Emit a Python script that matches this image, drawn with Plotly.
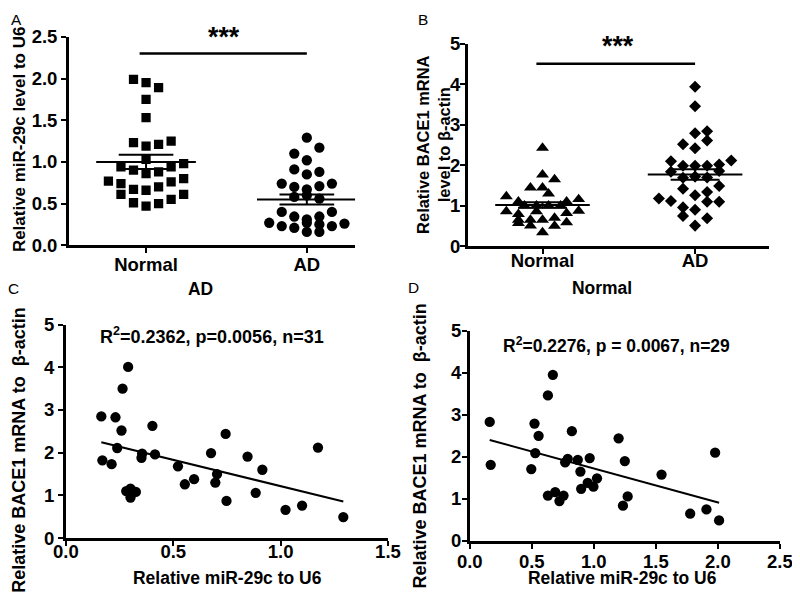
import plotly.graph_objects as go

FONT = "Arial, 'Liberation Sans', sans-serif"

# ---------------- Panel A : miR-29c (relative to U6) ----------------
groups = ["Normal", "AD"]
a_normal = [1.99, 1.95, 1.89, 1.75, 1.53, 1.23, 1.19, 1.21, 1.25, 1.03,
            0.94, 0.90, 0.86, 0.88, 0.94, 0.98, 0.77, 0.74, 0.67, 0.66,
            0.70, 0.76, 0.80, 0.61, 0.61, 0.51, 0.47, 0.50, 0.55]
a_normal_col = [-1, 0, 1, 0, 0, -1, 0, 1, 2, 0,
                -2, -1, 0, 1, 2, 3, -3, -2, -1, 0,
                1, 2, 3, -2, 3, -1, 0, 1, 2]
a_ad = [1.29, 1.17, 1.10, 1.02, 0.91, 0.85, 0.88, 0.74, 0.70, 0.67,
        0.71, 0.74, 0.58, 0.60, 0.56, 0.40, 0.40, 0.345, 0.31, 0.345,
        0.27, 0.23, 0.21, 0.27, 0.25, 0.23, 0.26, 0.16, 0.16]
a_ad_col = [0, 1, -1, 0, -1, 0, 1, -2, -1, 0,
            1, 2, -1, 0, 1, -2, 2, -1, 0, 1,
            -3, -2, -1, 0, 1, 2, 3, 0, 1]
a_mean = [1.00, 0.55]
a_sem = [0.085, 0.06]

# ---------------- Panel B : BACE1 mRNA (relative to beta-actin) ----------------
b_normal = [2.43, 1.77, 1.65, 1.45, 1.45, 1.30, 1.23, 1.10, 1.16, 1.10,
            1.00, 1.00, 1.00, 1.00, 0.86, 0.87, 0.79, 0.86, 0.82, 0.65,
            0.65, 0.65, 0.70, 0.59, 0.57, 0.51, 0.50, 0.34]
b_normal_col = [0, 0, 1, -1, 0, 0.5, -3, -2, 3, 2,
                -1.5, -0.5, 0.5, 1.5, -3, 3, -2, -0.5, 2, -2,
                -1, 0, 1, 2, -2, -1, 1, 0]
b_ad = [3.94, 3.46, 2.79, 2.84, 2.61, 2.52, 2.42, 2.10, 2.12, 1.99,
        1.99, 1.99, 2.02, 1.84, 1.69, 1.72, 1.70, 1.86, 1.42, 1.49,
        1.18, 1.12, 1.26, 1.34, 1.10, 1.10, 0.96, 0.90, 0.75, 0.69, 0.51]
b_ad_col = [0, 0, 0, 1, 1, -1, 0, -2, 3, -1,
            0, 1, 2, -2, -1, 0, 1, 2, -1, 2,
            -3, -2, 0, 1, 1, 2, -1, 0, -1, 1, 0]
b_mean = [1.02, 1.77]
b_sem = [0.07, 0.13]

# ---------------- Panel C : AD correlation ----------------
c_mir = [0.165, 0.170, 0.213, 0.231, 0.239, 0.259, 0.264, 0.290, 0.281, 0.301,
         0.301, 0.326, 0.352, 0.355, 0.403, 0.415, 0.522, 0.554, 0.597, 0.676,
         0.696, 0.704, 0.744, 0.748, 0.846, 0.915, 0.884, 1.023, 1.100, 1.174, 1.292]
c_bace = [2.85, 1.82, 1.73, 2.83, 2.11, 2.52, 3.50, 4.01, 1.10, 1.16,
          0.95, 1.08, 1.88, 1.98, 2.63, 1.96, 1.68, 1.26, 1.38, 1.99,
          1.30, 1.50, 2.44, 0.87, 1.91, 1.60, 1.06, 0.66, 0.76, 2.12, 0.49]
c_fit = [-1.234, 2.45]   # slope, intercept
c_stats = "R<sup>2</sup>=0.2362, p=0.0056, n=31"

# ---------------- Panel D : Normal correlation ----------------
d_mir = [0.161, 0.169, 0.496, 0.522, 0.528, 0.555, 0.630, 0.670, 0.630, 0.689,
         0.723, 0.756, 0.769, 0.790, 0.823, 0.871, 0.892, 0.898, 0.951, 0.967,
         0.997, 1.026, 1.200, 1.235, 1.250, 1.273, 1.546, 1.777, 1.908, 1.978, 2.010]
d_bace = [2.83, 1.81, 1.71, 2.79, 2.09, 2.50, 3.46, 3.95, 1.08, 1.16,
          0.95, 1.08, 1.87, 1.95, 2.61, 1.93, 1.65, 1.24, 1.38, 1.97,
          1.29, 1.49, 2.44, 0.84, 1.90, 1.06, 1.58, 0.65, 0.75, 2.10, 0.49]
d_fit = [-0.807, 2.53]
d_stats = "R<sup>2</sup>=0.2276, p = 0.0067, n=29"

# page geometry: the rendered page appears scaled/offset in the final picture
W, H = 820, 602
SX, CX = 0.971, 20.0
SY, CY = 0.9725, 15.0
K = 1.0 / 0.972
def px(x):
    return ((x - CX) / SX) / W
def py(y):
    return 1 - ((y - CY) / SY) / H

fig = go.Figure()

def dots(vals, cols, center, spacing, symbol, size, xa, ya):
    fig.add_trace(go.Scatter(
        x=[center + c * spacing for c in cols], y=vals, mode="markers",
        marker=dict(symbol=symbol, size=size * K, color="black", line=dict(width=0)),
        xaxis=xa, yaxis=ya, showlegend=False, hoverinfo="skip"))

def mean_sem(means, sems, hw, sw, xa, ya):
    xs, ys = [], []
    for i, (m, s) in enumerate(zip(means, sems)):
        c = i + 1
        xs += [c - hw, c + hw, None, c - sw, c + sw, None, c - sw, c + sw, None, c, c, None]
        ys += [m, m, None, m + s, m + s, None, m - s, m - s, None, m - s, m + s, None]
    fig.add_trace(go.Scatter(x=xs, y=ys, mode="lines",
                             line=dict(color="black", width=2),
                             xaxis=xa, yaxis=ya, showlegend=False, hoverinfo="skip"))

# Panel A
dots(a_normal, a_normal_col, 1, 0.078, "square", 9, "x", "y")
dots(a_ad, a_ad_col, 2, 0.078, "circle", 10, "x", "y")
mean_sem(a_mean, a_sem, 0.31, 0.17, "x", "y")
# Panel B
dots(b_normal, b_normal_col, 1, 0.079, "triangle-up", 11, "x2", "y2")
dots(b_ad, b_ad_col, 2, 0.079, "diamond", 9, "x2", "y2")
mean_sem(b_mean, b_sem, 0.31, 0.16, "x2", "y2")

# Panel C / D scatter + fit
def corr(xv, yv, fit, xa, ya):
    fig.add_trace(go.Scatter(x=xv, y=yv, mode="markers",
                             marker=dict(symbol="circle", size=10 * K, color="black"),
                             xaxis=xa, yaxis=ya, showlegend=False, hoverinfo="skip"))
    x0, x1 = min(xv), max(xv)
    fig.add_trace(go.Scatter(x=[x0, x1], y=[fit[0] * x0 + fit[1], fit[0] * x1 + fit[1]],
                             mode="lines", line=dict(color="black", width=2),
                             xaxis=xa, yaxis=ya, showlegend=False, hoverinfo="skip"))

corr(c_mir, c_bace, c_fit, "x3", "y3")
corr(d_mir, d_bace, d_fit, "x4", "y4")

tickfont = dict(family=FONT, size=18 * K, color="black", weight="bold")
axis_common = dict(showline=True, linecolor="black", linewidth=2.5, ticks="outside",
                   ticklen=5, tickwidth=2, tickcolor="black", showgrid=False,
                   zeroline=False, tickfont=tickfont, fixedrange=True)

fig.update_layout(
    width=W, height=H, margin=dict(l=0, r=0, t=0, b=0),
    paper_bgcolor="white", plot_bgcolor="white", showlegend=False,
    xaxis=dict(domain=[px(68), px(355)], range=[0.52, 2.30], tickvals=[1, 2],
               ticktext=groups, anchor="y", ticklabelstandoff=-4, **axis_common),
    yaxis=dict(domain=[py(243), py(33)], range=[0, 2.5], dtick=0.5, tick0=0,
               tickformat=".1f", anchor="x", **axis_common),
    xaxis2=dict(domain=[px(468), px(770)], range=[0.51, 2.484], tickvals=[1, 2],
                ticktext=groups, anchor="y2", ticklabelstandoff=-9, **axis_common),
    yaxis2=dict(domain=[py(244), py(40)], range=[0, 5], dtick=1, tick0=0,
                anchor="x2", ticklabelstandoff=-4, **axis_common),
    xaxis3=dict(domain=[px(65), px(388)], range=[0, 1.5], dtick=0.5, tick0=0,
                tickformat=".1f", anchor="y3", ticklabelstandoff=-10, **axis_common),
    yaxis3=dict(domain=[py(538), py(323)], range=[0, 5], dtick=1, tick0=0,
                anchor="x3", **axis_common),
    xaxis4=dict(domain=[px(470), px(781)], range=[0, 2.5], dtick=0.5, tick0=0,
                tickformat=".1f", anchor="y4", ticklabelstandoff=-3, **axis_common),
    yaxis4=dict(domain=[py(541), py(329)], range=[0, 5], dtick=1, tick0=0,
                anchor="x4", ticklabelstandoff=-3, **axis_common),
)

# significance bars
fig.add_shape(type="line", xref="x", yref="y", x0=0.96, x1=2.0, y0=2.30, y1=2.30,
              line=dict(color="black", width=2.5))
fig.add_shape(type="line", xref="x2", yref="y2", x0=0.96, x1=2.0, y0=4.51, y1=4.51,
              line=dict(color="black", width=2.5))

def ann(text, x, y, size, bold=True, angle=0, xanchor="center", yanchor="middle"):
    fig.add_annotation(text=text, x=px(x), y=py(y), xref="paper", yref="paper",
                       showarrow=False, textangle=angle, xanchor=xanchor, yanchor=yanchor,
                       font=dict(family=FONT, size=size * K, color="black",
                                 weight="bold" if bold else "normal"))

# stars
ann("***", 224, 33, 26)
ann("***", 619, 42, 26)

# panel letters
ann("A", 15, 15, 15, bold=False)
ann("B", 423, 15, 15, bold=False)
ann("C", 12, 287, 15, bold=False)
ann("D", 414, 286, 15, bold=False)

# y titles
ann("Relative miR-29c level to U6", 18, 137, 16.5, angle=-90)
ann("Relative BACE1 mRNA<br>level to β-actin", 433, 142, 16, angle=-90)
ann("Relative BACE1 mRNA to  β-actin", 18, 450, 17.5, angle=-90)
ann("Relative BACE1 mRNA to  β-actin", 420, 445, 17.5, angle=-90)

# subplot titles
ann("AD", 200, 287, 17)
ann("Normal", 603, 286, 17)

# x titles
ann("Relative miR-29c to U6", 227, 578, 17)
ann("Relative miR-29c to U6", 623, 578, 17)

# stats text
ann(c_stats, 212, 334, 17.5)
ann(d_stats, 617, 343, 17)

fig.write_html("out.html", config={"displayModeBar": False})
